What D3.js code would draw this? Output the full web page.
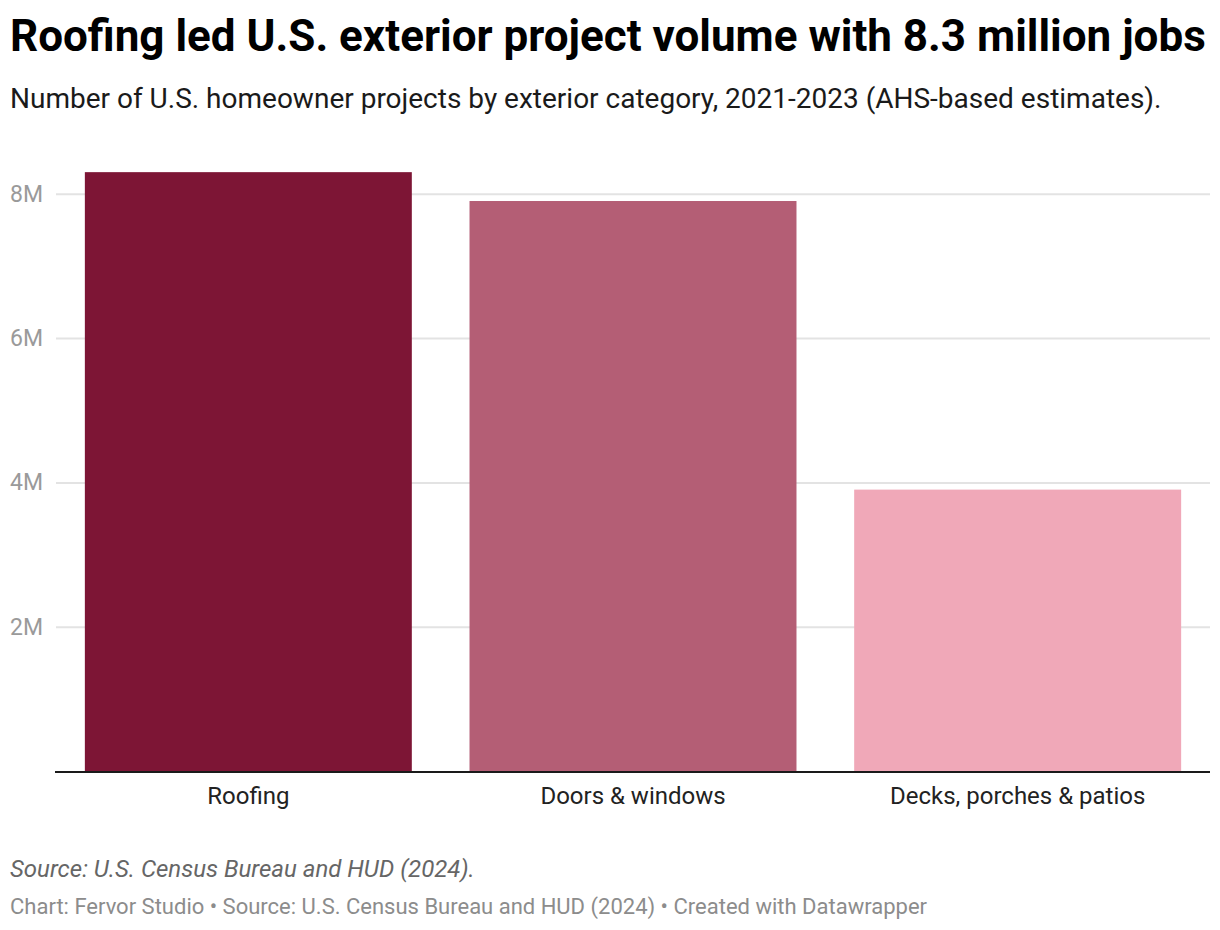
<!DOCTYPE html>
<html>
<head>
<meta charset="utf-8">
<script src="https://cdn.jsdelivr.net/npm/d3@7"></script>
<style>
  body { margin: 0; background: #fff; font-family: Roboto, "Noto Sans", sans-serif; }
  .grid line { stroke: #e3e3e3; stroke-width: 2; }
</style>
</head>
<body>
<div id="chart"></div>
<script>
const categories = ["Roofing", "Doors & windows", "Decks, porches & patios"];
const projects = [8.3, 7.9, 3.9]; // millions
const barColors = ["#7d1535", "#b45e75", "#f0a8b8"];
const yTicks = [2, 4, 6, 8];

const W = 1220, H = 930;
const margin = { top: 150, right: 10, bottom: 159, left: 56 };
const width = W - margin.left - margin.right;
const height = H - margin.top - margin.bottom;

const svg = d3.select("#chart")
  .append("svg")
  .attr("width", W)
  .attr("height", H);

// title + subtitle
svg.append("text")
  .attr("x", 10)
  .attr("y", 51)
  .style("font-size", "44px")
  .style("font-weight", "700")
  .style("fill", "#000")
  .text("Roofing led U.S. exterior project volume with 8.3 million jobs");

svg.append("text")
  .attr("x", 10)
  .attr("y", 108)
  .style("font-size", "28px")
  .style("fill", "#1a1a1a")
  .text("Number of U.S. homeowner projects by exterior category, 2021-2023 (AHS-based estimates).");

const g = svg.append("g")
  .attr("transform", `translate(${margin.left}, ${margin.top})`);

const x = d3.scaleBand()
  .domain(categories)
  .range([0, width])
  .paddingInner(0.15)
  .paddingOuter(0.075);

const y = d3.scaleLinear()
  .domain([0, 8.3])
  .range([height, height - 8.3 * 72.15]);

// gridlines
g.append("g")
  .attr("class", "grid")
  .call(d3.axisLeft(y).tickValues(yTicks).tickSize(-width).tickFormat(""))
  .call((s) => s.select(".domain").remove());

// y tick labels sit to the left of the grid
g.append("g")
  .selectAll("text")
  .data(yTicks)
  .enter()
  .append("text")
  .attr("x", -13)
  .attr("y", (d) => y(d) + 8)
  .style("text-anchor", "end")
  .style("font-size", "23px")
  .style("fill", "#9a9a9a")
  .text((d) => d + "M");

// bars
g.selectAll("rect")
  .data(projects)
  .enter()
  .append("rect")
  .attr("x", (d, i) => x(categories[i]))
  .attr("y", (d) => y(d))
  .attr("width", x.bandwidth())
  .attr("height", (d) => y(0) - y(d))
  .attr("fill", (d, i) => barColors[i]);

// baseline
g.append("line")
  .attr("x1", -1)
  .attr("x2", width)
  .attr("y1", y(0) + 1)
  .attr("y2", y(0) + 1)
  .attr("stroke", "#1a1a1a")
  .attr("stroke-width", 2);

// category labels
g.append("g")
  .attr("transform", `translate(0, ${height})`)
  .call(d3.axisBottom(x).tickSize(0).tickPadding(16))
  .call((s) => s.select(".domain").remove())
  .call((s) => s.selectAll("text")
    .style("font-size", "24px")
    .style("font-family", "Roboto, sans-serif")
    .style("fill", "#222"));

// footer
svg.append("text")
  .attr("x", 10)
  .attr("y", 877)
  .style("font-size", "24px")
  .style("font-style", "italic")
  .style("fill", "#666")
  .text("Source: U.S. Census Bureau and HUD (2024).");

svg.append("text")
  .attr("x", 10)
  .attr("y", 914)
  .style("font-size", "22px")
  .style("fill", "#8c8c8c")
  .text("Chart: Fervor Studio \u2022 Source: U.S. Census Bureau and HUD (2024) \u2022 Created with Datawrapper");
</script>
</body>
</html>
